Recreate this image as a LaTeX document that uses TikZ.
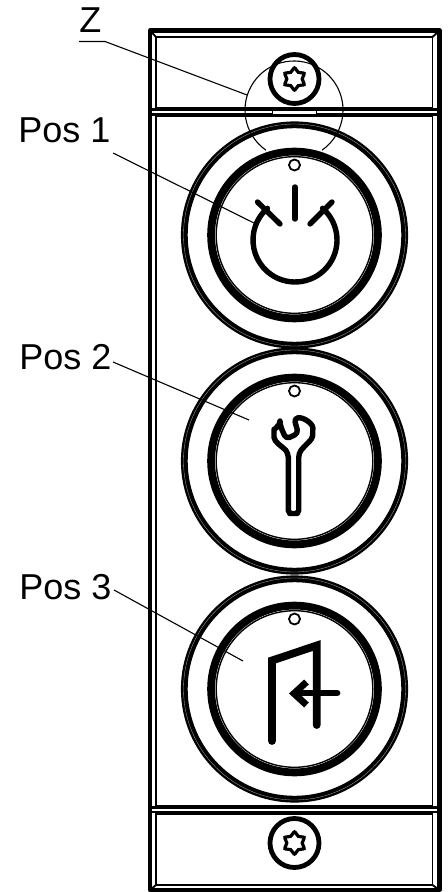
\documentclass[tikz,border=0pt]{standalone}
\usepackage{fontspec}
\setmainfont{Liberation Sans}
\tikzset{
  label text/.style={anchor=base west, inner sep=0pt, font=\fontsize{18}{18}\selectfont},
  leader/.style={line width=0.55pt},
  frame heavy/.style={line width=2.1pt, line join=round},
  frame thin/.style={line width=0.95pt},
  icon/.style={line width=2.7pt, line cap=round, line join=round},
  screw/.pic={
    \draw[line width=2.4pt] (0,0) circle (24.5);
    \draw[line width=1.6pt] plot[smooth cycle, domain=0:11, samples=12, variable=\k]
      ({(9.4+1.7*cos(\k*180))*cos(\k*30-90)},{(9.4+1.7*cos(\k*180))*sin(\k*30-90)});
  },
  button/.pic={
    \draw[line width=3.4pt] (0,0) circle (110.2);
    \draw[gray!60, line width=0.15pt] (0,0) circle (111);
    \draw[line width=3.9pt] (0,0) circle (83.4);
    \draw[line width=0.7pt] (0,0) circle (78.3);
    \draw[line width=0.9pt] (0,-70) circle (5.5);
  }
}
\begin{document}
\begin{tikzpicture}[x=0.5pt, y=-0.5pt]
\useasboundingbox (0,0) rectangle (448,892);
%%%%% Housing %%%%%
\draw[frame heavy] (150,30.5) rectangle (439.5,890);
\foreach \ytop/\ybot in {37/107.5,116.5/806,814/885}{
\draw[frame thin] (156,\ytop) rectangle (432.5,\ybot);
}
\draw[frame thin] (150,30.5)--(156,37);
\draw[frame thin] (439.5,30.5)--(432.5,37);
\draw[frame thin] (150,890)--(156,885);
\draw[frame thin] (439.5,890)--(432.5,885);
%%%%% Bands %%%%%
\foreach \y in {109.5,114.5,807.5,812}{
\draw[line width=1.1pt] (150,\y)--(439.5,\y);
}
\draw[line width=0.9pt, fill=white] (272.5,110.5) rectangle (316.5,115);
%%%%% Buttons and screws %%%%%
\foreach \cy in {235,461,689}{
\pic at (294.5,\cy) {button};
}
\foreach \cy in {79,843}{
\pic at (294.5,\cy) {screw};
}
%%%%% Detail circle %%%%%
\draw[leader] (294,110) ++(125:49) arc[start angle=125, end angle=415, radius=49];
%%%%% Power symbol %%%%%
\draw[icon] (295,187)--(295,219);
\draw[icon] (257.5,202)--(280,224);
\draw[icon] (332,202)--(310,224);
\draw[icon] (295,240) ++(-49:42) arc[start angle=-49, end angle=229, radius=42];
%%%%% Wrench %%%%%
\draw[icon, rounded corners=2pt] (280,425)--(286,439)--(298.3,433.3)--(294,418.3)
  .. controls (304,417) and (313,424) .. (312.7,432)
  .. controls (312.5,440) and (305,445) .. (298.7,453.3)
  --(298.7,506.7) .. controls (298.7,511) and (296,513.5) .. (293.7,513.5)
  .. controls (291,513.5) and (288.3,511) .. (288.3,506.7)
  --(288.3,453.3)
  .. controls (283,447) and (274,442) .. (274,433.3)
  .. controls (274,430) and (277,427) .. cycle;
%%%%% Door %%%%%
\draw[line width=3.9pt, line join=miter, line cap=round] (272,741)--(272,660.5)--(316.7,645.5)--(316.7,725);
\draw[line width=3.4pt, line cap=round] (337,693)--(295,693);
\draw[line width=3.4pt, line join=miter] (306.5,682)--(294,693.5)--(306.5,705);
%%%%% Labels %%%%%
\node[label text] (zlabel) at (79,33) {Z};
\node[label text] (pos1) at (18,143) {Pos 1};
\node[label text] (pos2) at (19,370) {Pos 2};
\node[label text] (pos3) at (19,599) {Pos 3};
\coordinate (zstart) at (79,41.5);
\coordinate (zbend) at (105,41.5);
\coordinate (ztip) at (247,95);
\coordinate (pos1start) at (113,153);
\coordinate (pos1tip) at (254,223);
\coordinate (pos2start) at (113,362);
\coordinate (pos2tip) at (249,420);
\coordinate (pos3start) at (114,590);
\coordinate (pos3tip) at (243,661);
\draw[leader] (zstart)--(zbend)--(ztip);
\draw[leader] (pos1start)--(pos1tip);
\draw[leader] (pos2start)--(pos2tip);
\draw[leader] (pos3start)--(pos3tip);
\end{tikzpicture}
\end{document}
